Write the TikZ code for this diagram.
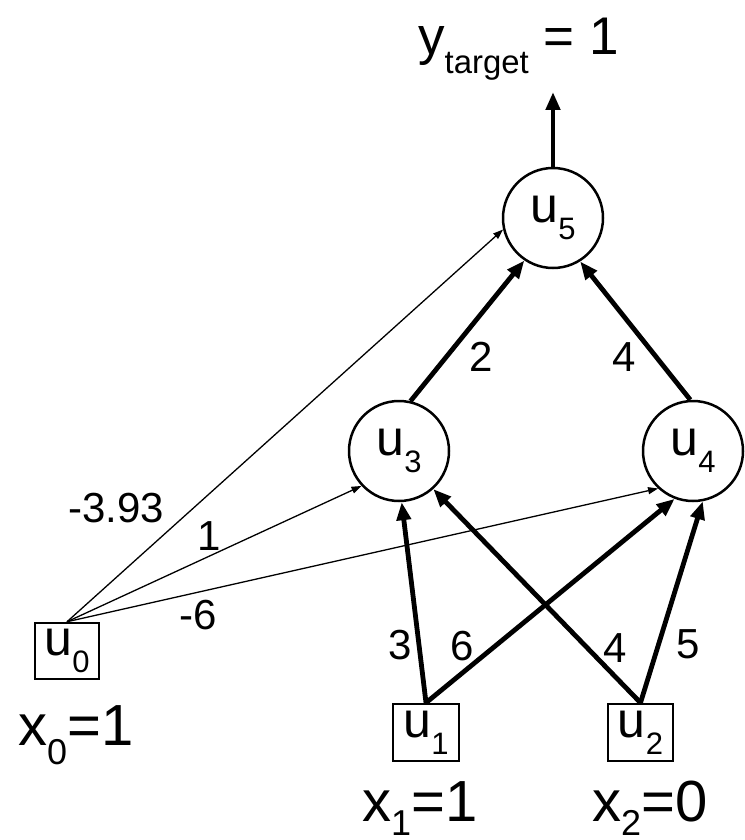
\documentclass[tikz,border=0pt]{standalone}
\usepackage{fontspec}
\usepackage{graphicx}
\setmainfont{Liberation Sans}
\usetikzlibrary{arrows.meta,calc}
\newcommand{\subtxt}[1]{\raisebox{-0.34em}{\scalebox{0.62}{#1}}}
\newcommand{\subbot}[1]{\raisebox{-0.25em}{\scalebox{0.62}{#1}}}
\tikzset{
  neuron/.style={circle,draw,line width=2.5pt,minimum size=100pt,inner sep=0pt,font=\fontsize{50}{60}\selectfont},
  inbox/.style={rectangle,draw,line width=2.5pt,inner sep=0pt,font=\fontsize{50}{60}\selectfont},
  thickedge/.style={line width=4.8pt,-{Triangle[length=18pt,width=14pt]}},
  thinedge/.style={line width=1.3pt,-{Triangle[length=10pt,width=7pt]}},
  wlabel/.style={inner sep=0pt,font=\fontsize{42}{50}\selectfont},
  vlabel/.style={inner sep=0pt,anchor=base west,font=\fontsize{58}{70}\selectfont}
}
\begin{document}
\begin{tikzpicture}[x=1pt,y=-1pt]
\useasboundingbox (0,0) rectangle (744,840);
% neurons
\node[neuron] (u5) at (553,218) {u\subtxt{5}};
\node[neuron] (u3) at (399,451) {u\subtxt{3}};
\node[neuron] (u4) at (693,451) {u\subtxt{4}};
% input boxes
\node[inbox,minimum width=64pt,minimum height=56pt] (u0) at (67,651) {u\subtxt{0}};
\node[inbox,minimum width=66pt,minimum height=57pt] (u1) at (426,732.5) {u\subtxt{1}};
\node[inbox,minimum width=65pt,minimum height=57pt] (u2) at (640.5,732.5) {u\subtxt{2}};
% output
\coordinate (out) at (553,92);
\node[inner sep=0pt,anchor=base west,font=\fontsize{53}{64}\selectfont] (yt) at (418,55) {y\subtxt{target} = 1};
% value labels
\node[vlabel] (x0) at (18,745) {x\subtxt{0}=1};
\node[vlabel] (x1) at (362,821) {x\subbot{1}=1};
\node[vlabel] (x2) at (592,821) {x\subbot{2}=0};
% edges
\draw[thickedge] (u5.north) -- (out);
\draw[thickedge] (u3.77) -- (u5.236);
\draw[thickedge] (u4.93) -- (u5.302);
\draw[thinedge] (u0.north) -- (u5.193);
\draw[thinedge] (u0.north) -- (u3.223);
\draw[thinedge] (u0.north) -- (u4.227);
\draw[thickedge] (u1.north) -- (u3.273);
\draw[thickedge] (u1.north) -- (u4.249);
\draw[thickedge] (u2.north) -- (u3.312);
\draw[thickedge] (u2.north) -- (u4.281);
% weight labels
\node[wlabel] (w05) at (116,508) {-3.93};
\node[wlabel] (w03) at (209,536) {1};
\node[wlabel] (w04) at (198,615) {-6};
\node[wlabel] (w35) at (481,357) {2};
\node[wlabel] (w45) at (624,357) {4};
\node[wlabel] (w13) at (400,645) {3};
\node[wlabel] (w14) at (462,646) {6};
\node[wlabel] (w23) at (615,648) {4};
\node[wlabel] (w24) at (688,644) {5};
\end{tikzpicture}
\end{document}
